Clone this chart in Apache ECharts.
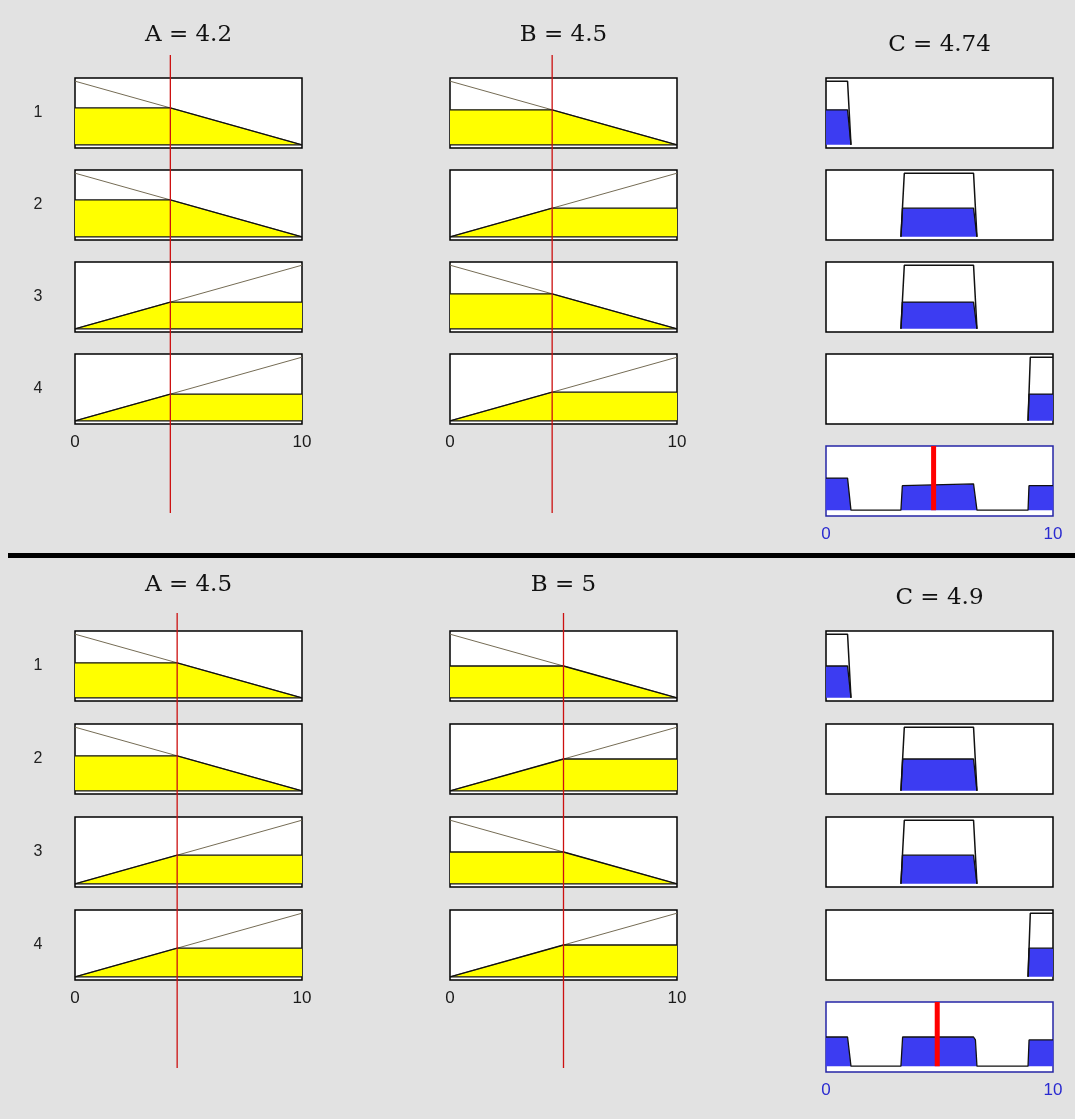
<!DOCTYPE html>
<html>
<head>
<meta charset="utf-8">
<script src="https://cdn.jsdelivr.net/npm/echarts@6/dist/echarts.min.js"></script>
<style>
  html, body { margin: 0; padding: 0; background: #e2e2e2; }
  #chart { width: 1075px; height: 1119px; }
</style>
</head>
<body>
<div id="chart"></div>
<script>
// Two evaluations of the same four-rule fuzzy system (inputs A, B -> output C)
const inputA = [4.2, 4.5];
const inputB = [4.5, 5];
const outputC = [4.74, 4.9];
const ruleLabels = ['1', '2', '3', '4'];
const axisTicks = [0, 10];

// Membership functions as [x, degree] breakpoints
const mfLow = [[0, 1], [10, 0]];
const mfHigh = [[0, 0], [10, 1]];
const mfC1 = [[0, 1], [0.95, 1], [1.1, 0]];
const mfC2 = [[3.3, 0], [3.45, 1], [6.5, 1], [6.65, 0]];
const mfC4 = [[8.9, 0], [9.0, 1], [10, 1]];

// Rule base: antecedent terms for A and B, consequent term for C
const ruleA = ['low', 'low', 'high', 'high'];
const ruleB = ['low', 'high', 'low', 'high'];
const ruleC = ['c1', 'c2', 'c2', 'c4'];
const terms = { low: mfLow, high: mfHigh, c1: mfC1, c2: mfC2, c4: mfC4 };

// Page layout (pixels)
const colLeft = [75, 450, 826];
const colWidth = 227;
const rowHeight = 70;
const panels = [
  { rowTop: [78, 170, 262, 354], aggTop: 446, titleY: 35, cTitleY: 45, lineTop: 55, lineBottom: 513 },
  { rowTop: [631, 724, 817, 910], aggTop: 1002, titleY: 585, cTitleY: 598, lineTop: 613, lineBottom: 1068 }
];

const YELLOW = '#ffff00';
const BLUE = '#3c3cf2';
const MF_LINE = '#756c55';
const EDGE = '#111111';
const NAVY = '#2626a6';

function evalMF(mf, x) {
  if (x < mf[0][0] || x > mf[mf.length - 1][0]) return 0;
  for (let i = 0; i < mf.length - 1; i++) {
    const [x0, y0] = mf[i], [x1, y1] = mf[i + 1];
    if (x >= x0 && x <= x1) {
      return x1 === x0 ? Math.max(y0, y1) : y0 + (y1 - y0) * (x - x0) / (x1 - x0);
    }
  }
  return 0;
}

// min(mf, level) as a polyline, adding the crossing points
function clipMF(mf, level) {
  const out = [];
  for (let i = 0; i < mf.length; i++) {
    const [x, y] = mf[i];
    if (i > 0) {
      const [px, py] = mf[i - 1];
      if ((py - level) * (y - level) < 0) {
        const t = (level - py) / (y - py);
        out.push([px + t * (x - px), level]);
      }
    }
    out.push([x, Math.min(y, level)]);
  }
  return out;
}

// max of the clipped consequents over [0, 10]
function aggregate(clips) {
  let xs = axisTicks.slice();
  clips.forEach(c => c.forEach(p => xs.push(p[0])));
  xs = [...new Set(xs)].sort((a, b) => a - b);
  return xs.map(x => [x, Math.max(...clips.map(c => evalMF(c, x)))]);
}

const grids = [], xAxes = [], yAxes = [], series = [], graphics = [];

function addGrid(left, top, height, opts) {
  const idx = grids.length;
  grids.push({
    left: left, top: top, width: colWidth, height: height,
    show: !!opts.box, backgroundColor: '#ffffff',
    borderColor: opts.borderColor || '#000000', borderWidth: 1.5,
    containLabel: false
  });
  xAxes.push({
    gridIndex: idx, type: 'value', min: axisTicks[0], max: axisTicks[1], interval: axisTicks[1] - axisTicks[0],
    axisLine: { show: false }, axisTick: { show: false }, splitLine: { show: false },
    axisLabel: {
      show: !!opts.labels, margin: 10, fontSize: 17, fontFamily: 'Liberation Sans, Arial, sans-serif',
      color: opts.labelColor || '#1a1a1a'
    }
  });
  yAxes.push({
    gridIndex: idx, type: 'value', min: opts.ymin, max: opts.ymax,
    show: false, splitLine: { show: false }
  });
  return idx;
}

function line(idx, data, color, width, extra) {
  series.push(Object.assign({
    type: 'line', xAxisIndex: idx, yAxisIndex: idx, data: data,
    symbol: 'none', silent: true, animation: false,
    lineStyle: { color: color, width: width }
  }, extra || {}));
}

panels.forEach((pl, p) => {
  const a = inputA[p], b = inputB[p];
  const strengths = ruleA.map((t, r) => Math.min(evalMF(terms[t], a), evalMF(terms[ruleB[r]], b)));
  const outClips = [];

  ruleLabels.forEach((lab, r) => {
    const last = r === ruleLabels.length - 1;
    // input columns
    [[terms[ruleA[r]], a], [terms[ruleB[r]], b]].forEach(([mf, v], c) => {
      const g = addGrid(colLeft[c], pl.rowTop[r], rowHeight, { box: true, labels: last, ymin: -0.05, ymax: 1.05 });
      line(g, mf, MF_LINE, 1);
      line(g, clipMF(mf, evalMF(mf, v)), EDGE, 1.3, { areaStyle: { color: YELLOW, opacity: 1 } });
      line(g, [[axisTicks[0], 0], [axisTicks[1], 0]], EDGE, 1.3);
    });
    // output column
    const mfOut = terms[ruleC[r]];
    const clip = clipMF(mfOut, strengths[r]);
    outClips.push(clip);
    const g = addGrid(colLeft[2], pl.rowTop[r], rowHeight, { box: true, ymin: -0.05, ymax: 1.05 });
    line(g, clip, EDGE, 1.3, { areaStyle: { color: BLUE, opacity: 1 } });
    line(g, mfOut, EDGE, 1.5);

    graphics.push({
      type: 'text', x: 38, y: pl.rowTop[r] + rowHeight / 2,
      style: { text: lab, align: 'center', verticalAlign: 'middle', fontSize: 16,
               fontFamily: 'Liberation Sans, Arial, sans-serif', fill: '#222222' }
    });
  });

  // aggregated output with defuzzified value
  const gAgg = addGrid(colLeft[2], pl.aggTop, rowHeight,
    { box: true, labels: true, labelColor: '#2a2ad0', borderColor: NAVY, ymin: -0.1, ymax: 1.1 });
  line(gAgg, aggregate(outClips), EDGE, 1.3, { areaStyle: { color: BLUE, opacity: 1 } });
  line(gAgg, [[outputC[p], 0], [outputC[p], 1.1]], '#ff0000', 5, { z: 6 });

  // input value markers across the rule rows
  [a, b].forEach((v, c) => {
    const g = addGrid(colLeft[c], pl.lineTop, pl.lineBottom - pl.lineTop, { box: false, ymin: 0, ymax: 1 });
    line(g, [[v, 0], [v, 1]], '#cc1010', 1.3, { z: 6 });
  });

  // column titles
  [['A', a, pl.titleY], ['B', b, pl.titleY], ['C', outputC[p], pl.cTitleY]].forEach(([n, v, y], c) => {
    graphics.push({
      type: 'text', x: colLeft[c] + colWidth / 2, y: y,
      style: { text: n + ' = ' + v, align: 'center', verticalAlign: 'middle', fontSize: 23,
               fontFamily: 'DejaVu Serif, Liberation Serif, serif', fill: '#111111' }
    });
  });
});

// separator between the two snapshots
graphics.push({ type: 'rect', shape: { x: 8, y: 553, width: 1067, height: 5 }, style: { fill: '#000000' } });

const chart = echarts.init(document.getElementById('chart'), null, { renderer: 'canvas' });
chart.setOption({
  backgroundColor: '#e2e2e2',
  animation: false,
  grid: grids,
  xAxis: xAxes,
  yAxis: yAxes,
  series: series,
  graphic: graphics
});
</script>
</body>
</html>
